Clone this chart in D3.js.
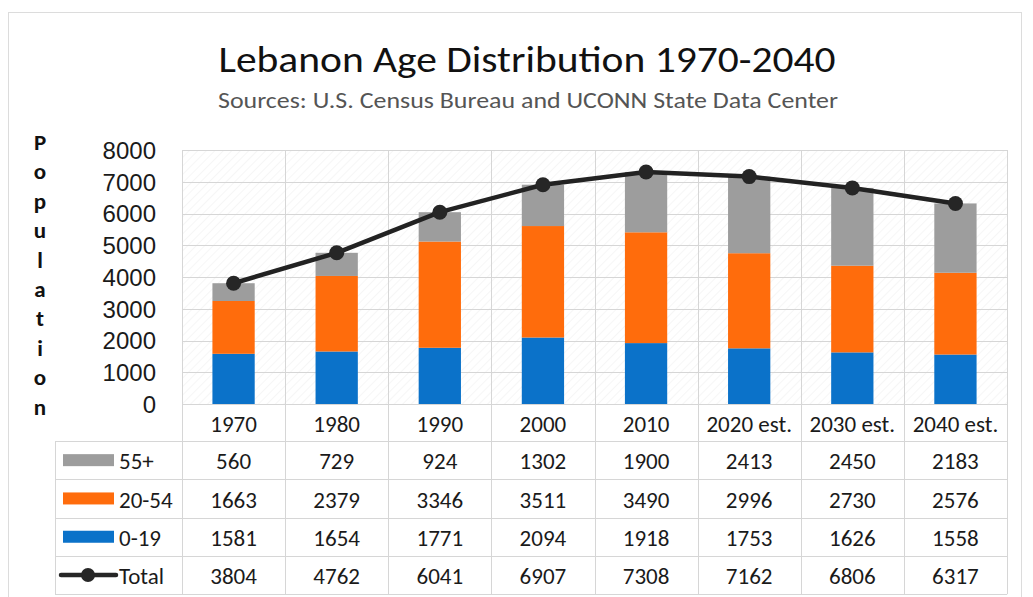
<!DOCTYPE html>
<html>
<head>
<meta charset="utf-8">
<script src="https://cdn.jsdelivr.net/npm/d3@7"></script>
<style>
  body { margin: 0; background: #fff; }
  svg { display: block; font-family: Carlito, Lato, "Open Sans", sans-serif; }
</style>
</head>
<body>
<svg id="chart" width="1033" height="597"></svg>
<script>
// chart data
const years = ['1970', '1980', '1990', '2000', '2010', '2020 est.', '2030 est.', '2040 est.'];
const age0_19 = [1581, 1654, 1771, 2094, 1918, 1753, 1626, 1558];
const age20_54 = [1663, 2379, 3346, 3511, 3490, 2996, 2730, 2576];
const age55 = [560, 729, 924, 1302, 1900, 2413, 2450, 2183];
const totals = [3804, 4762, 6041, 6907, 7308, 7162, 6806, 6317];
const yTicks = [0, 1000, 2000, 3000, 4000, 5000, 6000, 7000, 8000];

const seriesNames = ['0-19', '20-54', '55+'];
const seriesColors = {'0-19': '#0b72c9', '20-54': '#ff6c0c', '55+': '#9d9d9d'};

const svg = d3.select('#chart');
const plot = {left: 182, right: 1007, top: 150, bottom: 404};
const fs = 23;

// frame
svg.append('rect').attr('x', 8.5).attr('y', 12.5).attr('width', 1013).attr('height', 600)
  .attr('fill', 'none').attr('stroke', '#dcdcdc');

// title
svg.append('text').attr('x', 527).attr('y', 72).attr('text-anchor', 'middle')
  .attr('font-size', 37).attr('fill', '#111')
  .attr('textLength', 617).attr('lengthAdjust', 'spacingAndGlyphs')
  .text('Lebanon Age Distribution 1970-2040');
svg.append('text').attr('x', 528).attr('y', 108).attr('text-anchor', 'middle')
  .attr('font-size', 22).attr('fill', '#555')
  .attr('textLength', 620).attr('lengthAdjust', 'spacingAndGlyphs')
  .text('Sources: U.S. Census Bureau and UCONN State Data Center');

// scales
const x = d3.scaleBand().domain(years).range([plot.left, plot.right]).padding(0);
const y = d3.scaleLinear().domain([0, 8000]).range([plot.bottom, plot.top]);
const barW = x.bandwidth() * 0.41;

// faint hatching of the plot area
const defs = svg.append('defs');
const pat = defs.append('pattern').attr('id', 'hatch').attr('width', 6).attr('height', 6)
  .attr('patternUnits', 'userSpaceOnUse').attr('patternTransform', 'rotate(45)');
pat.append('line').attr('x1', 0).attr('y1', 0).attr('x2', 0).attr('y2', 6)
  .attr('stroke', '#f3f3f3').attr('stroke-width', 1.5);
svg.append('rect').attr('x', plot.left).attr('y', plot.top)
  .attr('width', plot.right - plot.left).attr('height', plot.bottom - plot.top)
  .attr('fill', 'url(#hatch)');

// gridlines
svg.append('g').selectAll('line').data(yTicks).join('line')
  .attr('x1', plot.left).attr('x2', plot.right)
  .attr('y1', d => Math.round(y(d)) + 0.5).attr('y2', d => Math.round(y(d)) + 0.5)
  .attr('stroke', '#d6d6d6');

// table geometry
const rowH = 38.3;
const catRowBottom = 441;
const tableTop = catRowBottom;
const tableBottom = tableTop + rowH * 4;
const legendLeft = 55;

// vertical lines: through plot and table
const colEdges = years.map(d => x(d)).concat([plot.right]);
svg.append('g').selectAll('line').data(colEdges).join('line')
  .attr('x1', d => Math.round(d) + 0.5).attr('x2', d => Math.round(d) + 0.5)
  .attr('y1', plot.top).attr('y2', tableBottom)
  .attr('stroke', '#d6d6d6');

// stacked bars
const stackData = years.map((yr, i) => ({year: yr, '0-19': age0_19[i], '20-54': age20_54[i], '55+': age55[i]}));
const stacked = d3.stack().keys(seriesNames)(stackData);
svg.append('g').selectAll('g').data(stacked).join('g')
  .attr('fill', d => seriesColors[d.key])
  .selectAll('rect').data(d => d).join('rect')
  .attr('x', d => x(d.data.year) + (x.bandwidth() - barW) / 2)
  .attr('width', barW)
  .attr('y', d => y(d[1]))
  .attr('height', d => y(d[0]) - y(d[1]));

// total line
const cx = (d, i) => x(years[i]) + x.bandwidth() / 2;
const line = d3.line().x((d, i) => cx(d, i)).y(d => y(d));
svg.append('path').datum(totals).attr('d', line)
  .attr('fill', 'none').attr('stroke', '#222').attr('stroke-width', 4.5).attr('stroke-linejoin', 'round');
svg.append('g').selectAll('circle').data(totals).join('circle')
  .attr('cx', (d, i) => cx(d, i)).attr('cy', d => y(d)).attr('r', 7.5)
  .attr('fill', '#262626');

// y axis
const yAxis = d3.axisLeft(y).tickValues(yTicks).tickSize(0).tickPadding(0).tickFormat(d3.format('d'));
const ga = svg.append('g').attr('transform', 'translate(156,0)').call(yAxis);
ga.select('.domain').remove();
ga.selectAll('text').attr('font-size', 24).attr('fill', '#1a1a1a').attr('font-family', null).attr('dy', '0.35em');

// vertical axis title
const letters = 'Population'.split('');
svg.append('g').selectAll('text').data(letters).join('text')
  .attr('x', 40).attr('y', (d, i) => 142 + i * 29.4).attr('dy', '0.35em')
  .attr('text-anchor', 'middle').attr('font-weight', 'bold').attr('font-size', 23).attr('fill', '#111')
  .text(d => d);

// category labels row
svg.append('g').selectAll('text').data(years).join('text')
  .attr('x', d => x(d) + x.bandwidth() / 2).attr('y', (plot.bottom + catRowBottom) / 2 + 1).attr('dy', '0.35em')
  .attr('text-anchor', 'middle').attr('font-size', fs).attr('fill', '#1a1a1a')
  .text(d => d);

// data table rows
const tableRows = [
  {name: '55+', values: age55, key: 'rect', color: seriesColors['55+']},
  {name: '20-54', values: age20_54, key: 'rect', color: seriesColors['20-54']},
  {name: '0-19', values: age0_19, key: 'rect', color: seriesColors['0-19']},
  {name: 'Total', values: totals, key: 'line', color: '#262626'}
];

const tg = svg.append('g');
// horizontal table lines
d3.range(5).forEach(k => {
  const yy = Math.round(tableTop + k * rowH) + 0.5;
  tg.append('line').attr('x1', legendLeft).attr('x2', plot.right).attr('y1', yy).attr('y2', yy)
    .attr('stroke', '#d6d6d6');
});
tg.append('line').attr('x1', legendLeft + 0.5).attr('x2', legendLeft + 0.5)
  .attr('y1', tableTop).attr('y2', tableBottom).attr('stroke', '#d6d6d6');

tableRows.forEach((row, r) => {
  const cy = tableTop + r * rowH + rowH / 2;
  if (row.key === 'rect') {
    tg.append('rect').attr('x', 63).attr('y', cy - 6).attr('width', 51).attr('height', 12).attr('fill', row.color);
  } else {
    tg.append('line').attr('x1', 61).attr('x2', 116).attr('y1', cy).attr('y2', cy)
      .attr('stroke', row.color).attr('stroke-width', 4.5).attr('stroke-linecap', 'round');
    tg.append('circle').attr('cx', 88).attr('cy', cy).attr('r', 7).attr('fill', row.color);
  }
  tg.append('text').attr('x', 119).attr('y', cy + 1).attr('dy', '0.35em')
    .attr('font-size', fs).attr('fill', '#1a1a1a').text(row.name);
  tg.append('g').selectAll('text').data(row.values).join('text')
    .attr('x', (d, i) => x(years[i]) + x.bandwidth() / 2).attr('y', cy + 1).attr('dy', '0.35em')
    .attr('text-anchor', 'middle').attr('font-size', fs).attr('fill', '#1a1a1a')
    .text(d => d);
});
</script>
</body>
</html>
